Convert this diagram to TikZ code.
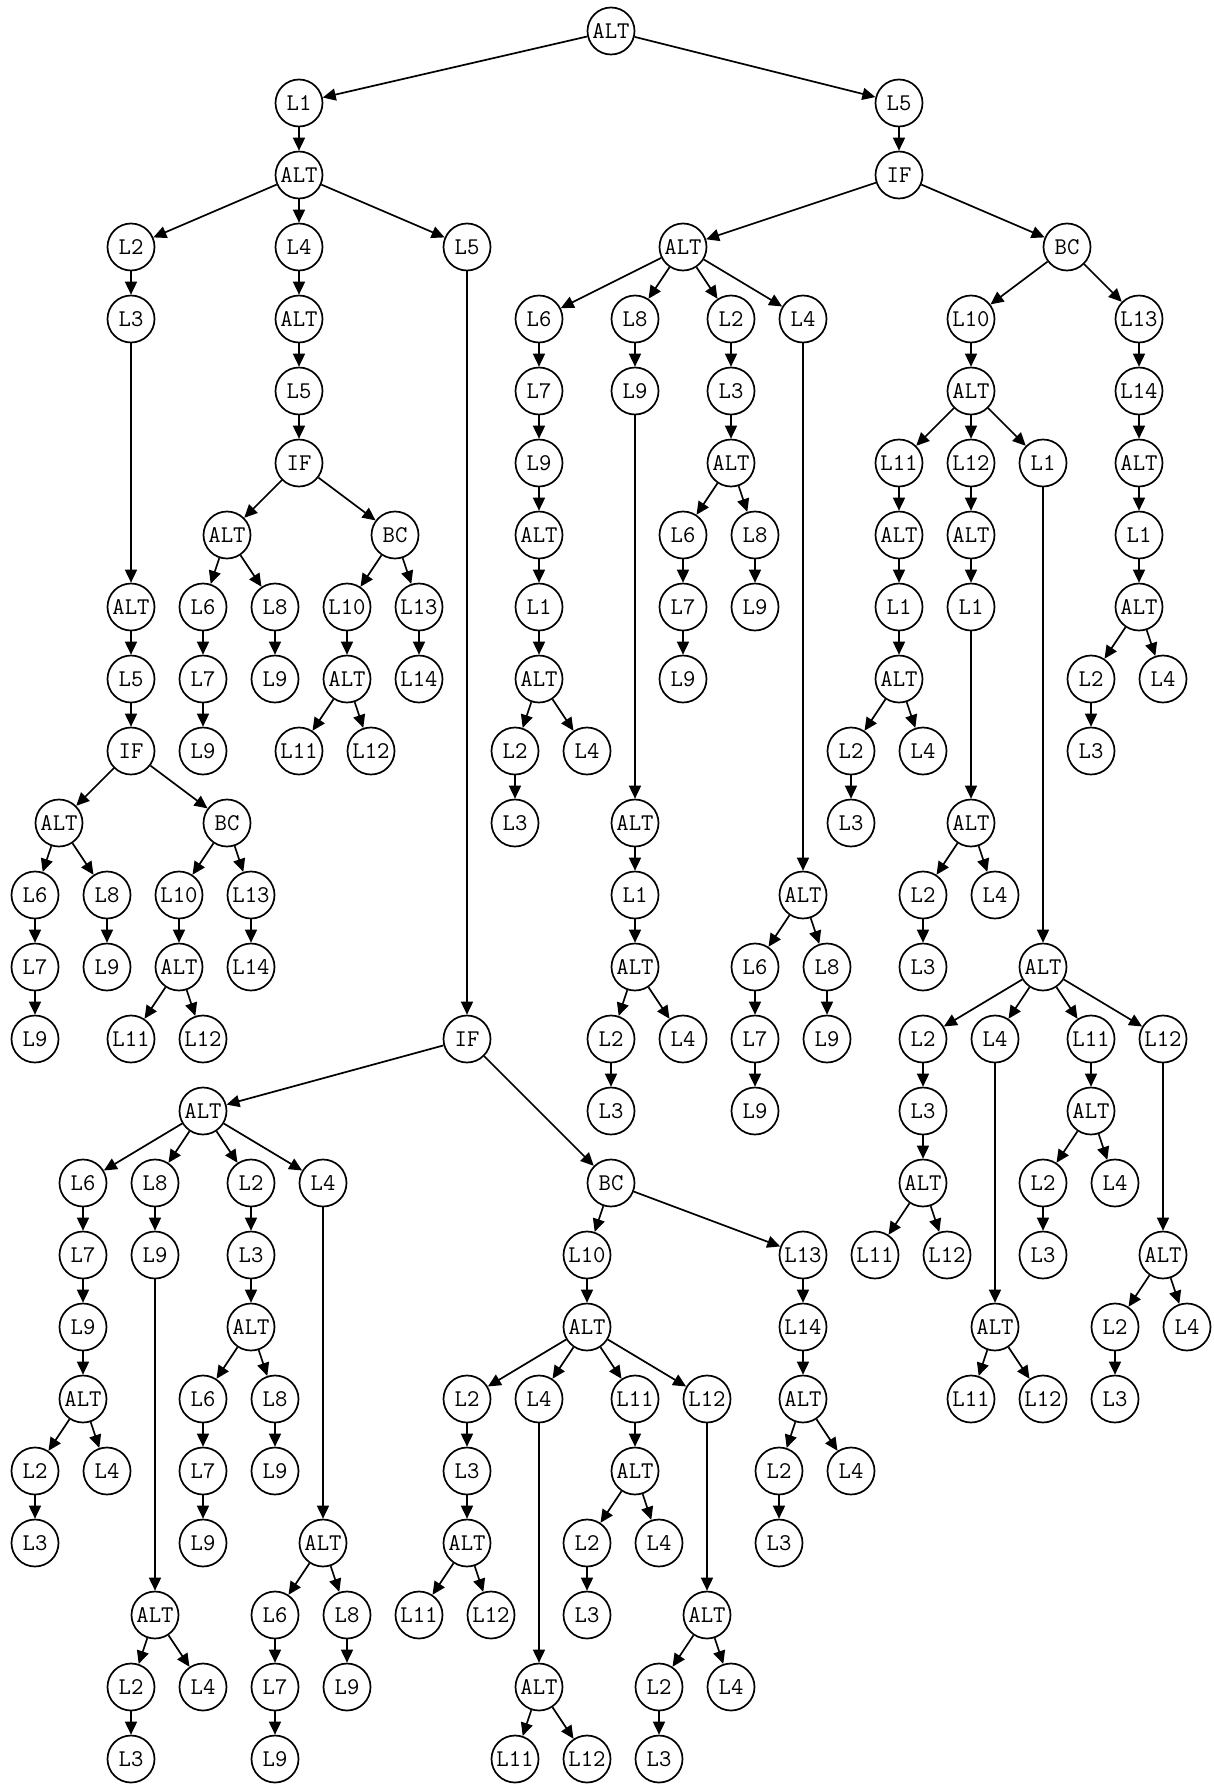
\documentclass[tikz,border=0pt]{standalone}
\usetikzlibrary{arrows.meta}
\tikzset{
  nd/.style={circle,draw,line width=1.7pt,minimum size=47pt,inner sep=0pt,font=\ttfamily\fontsize{24}{24}\selectfont},
  ed/.style={line width=1.7pt,-{Triangle[length=13pt,width=12pt]}}
}
\begin{document}
\begin{tikzpicture}[x=24pt,y=-72pt]
\useasboundingbox (0,0) rectangle (1214pt,-1785pt);
\begin{scope}[shift={(35pt,-31pt)}]
% root
\node[nd] (a) at (24,0) {ALT};
\node[nd] (b1) at (11,1) {L1};
\node[nd] (b2) at (36,1) {L5};
% left branch
\node[nd] (c) at (11,2) {ALT};
\node[nd] (c1) at (4,3) {L2};
\node[nd] (c2) at (11,3) {L4};
\node[nd] (c3) at (18,3) {L5};
% c1 subtree
\node[nd] (d1) at (4,4) {L3};
\node[nd] (d2) at (4,8) {ALT};
\node[nd] (d3) at (4,9) {L5};
\node[nd] (d4) at (4,10) {IF};
\node[nd] (d5) at (1,11) {ALT};
\node[nd] (d6) at (8,11) {BC};
\node[nd] (d7) at (0,12) {L6};
\node[nd] (d8) at (3,12) {L8};
\node[nd] (d9) at (0,13) {L7};
\node[nd] (d10) at (0,14) {L9};
\node[nd] (d11) at (3,13) {L9};
\node[nd] (d12) at (6,12) {L10};
\node[nd] (d13) at (9,12) {L13};
\node[nd] (d14) at (6,13) {ALT};
\node[nd] (d15) at (4,14) {L11};
\node[nd] (d16) at (7,14) {L12};
\node[nd] (d17) at (9,13) {L14};
% c2 subtree
\node[nd] (e1) at (11,4) {ALT};
\node[nd] (e2) at (11,5) {L5};
\node[nd] (e3) at (11,6) {IF};
\node[nd] (e4) at (8,7) {ALT};
\node[nd] (e5) at (15,7) {BC};
\node[nd] (e6) at (7,8) {L6};
\node[nd] (e7) at (10,8) {L8};
\node[nd] (e8) at (7,9) {L7};
\node[nd] (e9) at (7,10) {L9};
\node[nd] (e10) at (10,9) {L9};
\node[nd] (e11) at (13,8) {L10};
\node[nd] (e12) at (16,8) {L13};
\node[nd] (e13) at (13,9) {ALT};
\node[nd] (e14) at (11,10) {L11};
\node[nd] (e15) at (14,10) {L12};
\node[nd] (e16) at (16,9) {L14};
% c3 subtree
\node[nd] (f1) at (18,14) {IF};
\node[nd] (f2) at (7,15) {ALT};
\node[nd] (f3) at (24,16) {BC};
\node[nd] (f4) at (2,16) {L6};
\node[nd] (f5) at (5,16) {L8};
\node[nd] (f6) at (9,16) {L2};
\node[nd] (f7) at (12,16) {L4};
\node[nd] (f8) at (2,17) {L7};
\node[nd] (f9) at (2,18) {L9};
\node[nd] (f10) at (2,19) {ALT};
\node[nd] (f11) at (0,20) {L2};
\node[nd] (f12) at (3,20) {L4};
\node[nd] (f13) at (0,21) {L3};
\node[nd] (f14) at (5,17) {L9};
\node[nd] (f15) at (5,22) {ALT};
\node[nd] (f16) at (4,23) {L2};
\node[nd] (f17) at (7,23) {L4};
\node[nd] (f18) at (4,24) {L3};
\node[nd] (f19) at (9,17) {L3};
\node[nd] (f20) at (9,18) {ALT};
\node[nd] (f21) at (7,19) {L6};
\node[nd] (f22) at (10,19) {L8};
\node[nd] (f23) at (7,20) {L7};
\node[nd] (f24) at (7,21) {L9};
\node[nd] (f25) at (10,20) {L9};
\node[nd] (f26) at (12,21) {ALT};
\node[nd] (f27) at (10,22) {L6};
\node[nd] (f28) at (13,22) {L8};
\node[nd] (f29) at (10,23) {L7};
\node[nd] (f30) at (10,24) {L9};
\node[nd] (f31) at (13,23) {L9};
% f3 subtree
\node[nd] (g1) at (23,17) {L10};
\node[nd] (g2) at (32,17) {L13};
\node[nd] (g3) at (23,18) {ALT};
\node[nd] (g4) at (18,19) {L2};
\node[nd] (g5) at (21,19) {L4};
\node[nd] (g6) at (25,19) {L11};
\node[nd] (g7) at (28,19) {L12};
\node[nd] (g8) at (18,20) {L3};
\node[nd] (g9) at (18,21) {ALT};
\node[nd] (g10) at (16,22) {L11};
\node[nd] (g11) at (19,22) {L12};
\node[nd] (g12) at (21,23) {ALT};
\node[nd] (g13) at (20,24) {L11};
\node[nd] (g14) at (23,24) {L12};
\node[nd] (g15) at (25,20) {ALT};
\node[nd] (g16) at (23,21) {L2};
\node[nd] (g17) at (26,21) {L4};
\node[nd] (g18) at (23,22) {L3};
\node[nd] (g19) at (28,22) {ALT};
\node[nd] (g20) at (26,23) {L2};
\node[nd] (g21) at (29,23) {L4};
\node[nd] (g22) at (26,24) {L3};
\node[nd] (g23) at (32,18) {L14};
\node[nd] (g24) at (32,19) {ALT};
\node[nd] (g25) at (31,20) {L2};
\node[nd] (g26) at (34,20) {L4};
\node[nd] (g27) at (31,21) {L3};
% right branch
\node[nd] (h) at (36,2) {IF};
\node[nd] (h1) at (27,3) {ALT};
\node[nd] (h2) at (43,3) {BC};
\node[nd] (i1) at (21,4) {L6};
\node[nd] (i2) at (25,4) {L8};
\node[nd] (i3) at (29,4) {L2};
\node[nd] (i4) at (32,4) {L4};
\node[nd] (i5) at (21,5) {L7};
\node[nd] (i6) at (21,6) {L9};
\node[nd] (i7) at (21,7) {ALT};
\node[nd] (i8) at (21,8) {L1};
\node[nd] (i9) at (21,9) {ALT};
\node[nd] (i10) at (20,10) {L2};
\node[nd] (i11) at (23,10) {L4};
\node[nd] (i12) at (20,11) {L3};
\node[nd] (i13) at (25,5) {L9};
\node[nd] (i14) at (25,11) {ALT};
\node[nd] (i15) at (25,12) {L1};
\node[nd] (i16) at (25,13) {ALT};
\node[nd] (i17) at (24,14) {L2};
\node[nd] (i18) at (27,14) {L4};
\node[nd] (i19) at (24,15) {L3};
\node[nd] (i20) at (29,5) {L3};
\node[nd] (i21) at (29,6) {ALT};
\node[nd] (i22) at (27,7) {L6};
\node[nd] (i23) at (30,7) {L8};
\node[nd] (i24) at (27,8) {L7};
\node[nd] (i25) at (27,9) {L9};
\node[nd] (i26) at (30,8) {L9};
\node[nd] (i27) at (32,12) {ALT};
\node[nd] (i28) at (30,13) {L6};
\node[nd] (i29) at (33,13) {L8};
\node[nd] (i30) at (30,14) {L7};
\node[nd] (i31) at (30,15) {L9};
\node[nd] (i32) at (33,14) {L9};
% h2 subtree
\node[nd] (j1) at (39,4) {L10};
\node[nd] (j2) at (46,4) {L13};
\node[nd] (j3) at (39,5) {ALT};
\node[nd] (j4) at (36,6) {L11};
\node[nd] (j5) at (39,6) {L12};
\node[nd] (j6) at (42,6) {L1};
\node[nd] (j7) at (36,7) {ALT};
\node[nd] (j8) at (36,8) {L1};
\node[nd] (j9) at (36,9) {ALT};
\node[nd] (j10) at (34,10) {L2};
\node[nd] (j11) at (37,10) {L4};
\node[nd] (j12) at (34,11) {L3};
\node[nd] (j13) at (39,7) {ALT};
\node[nd] (j14) at (39,8) {L1};
\node[nd] (j15) at (39,11) {ALT};
\node[nd] (j16) at (37,12) {L2};
\node[nd] (j17) at (40,12) {L4};
\node[nd] (j18) at (37,13) {L3};
\node[nd] (j19) at (42,13) {ALT};
\node[nd] (j20) at (37,14) {L2};
\node[nd] (j21) at (40,14) {L4};
\node[nd] (j22) at (44,14) {L11};
\node[nd] (j23) at (47,14) {L12};
\node[nd] (j24) at (37,15) {L3};
\node[nd] (j25) at (37,16) {ALT};
\node[nd] (j26) at (35,17) {L11};
\node[nd] (j27) at (38,17) {L12};
\node[nd] (j28) at (40,18) {ALT};
\node[nd] (j29) at (39,19) {L11};
\node[nd] (j30) at (42,19) {L12};
\node[nd] (j31) at (44,15) {ALT};
\node[nd] (j32) at (42,16) {L2};
\node[nd] (j33) at (45,16) {L4};
\node[nd] (j34) at (42,17) {L3};
\node[nd] (j35) at (47,17) {ALT};
\node[nd] (j36) at (45,18) {L2};
\node[nd] (j37) at (48,18) {L4};
\node[nd] (j38) at (45,19) {L3};
\node[nd] (j39) at (46,5) {L14};
\node[nd] (j40) at (46,6) {ALT};
\node[nd] (j41) at (46,7) {L1};
\node[nd] (j42) at (46,8) {ALT};
\node[nd] (j43) at (44,9) {L2};
\node[nd] (j44) at (47,9) {L4};
\node[nd] (j45) at (44,10) {L3};
% edges
\foreach \s/\t in {a/b1,a/b2,b1/c,c/c1,c/c2,c/c3,
 c1/d1,d1/d2,d2/d3,d3/d4,d4/d5,d4/d6,d5/d7,d5/d8,d7/d9,d9/d10,d8/d11,d6/d12,d6/d13,d12/d14,d14/d15,d14/d16,d13/d17,
 c2/e1,e1/e2,e2/e3,e3/e4,e3/e5,e4/e6,e4/e7,e6/e8,e8/e9,e7/e10,e5/e11,e5/e12,e11/e13,e13/e14,e13/e15,e12/e16,
 c3/f1,f1/f2,f1/f3,f2/f4,f2/f5,f2/f6,f2/f7,f4/f8,f8/f9,f9/f10,f10/f11,f10/f12,f11/f13,
 f5/f14,f14/f15,f15/f16,f15/f17,f16/f18,f6/f19,f19/f20,f20/f21,f20/f22,f21/f23,f23/f24,f22/f25,
 f7/f26,f26/f27,f26/f28,f27/f29,f29/f30,f28/f31,
 f3/g1,f3/g2,g1/g3,g3/g4,g3/g5,g3/g6,g3/g7,g4/g8,g8/g9,g9/g10,g9/g11,g5/g12,g12/g13,g12/g14,
 g6/g15,g15/g16,g15/g17,g16/g18,g7/g19,g19/g20,g19/g21,g20/g22,g2/g23,g23/g24,g24/g25,g24/g26,g25/g27,
 b2/h,h/h1,h/h2,h1/i1,h1/i2,h1/i3,h1/i4,i1/i5,i5/i6,i6/i7,i7/i8,i8/i9,i9/i10,i9/i11,i10/i12,
 i2/i13,i13/i14,i14/i15,i15/i16,i16/i17,i16/i18,i17/i19,i3/i20,i20/i21,i21/i22,i21/i23,i22/i24,i24/i25,i23/i26,
 i4/i27,i27/i28,i27/i29,i28/i30,i30/i31,i29/i32,
 h2/j1,h2/j2,j1/j3,j3/j4,j3/j5,j3/j6,j4/j7,j7/j8,j8/j9,j9/j10,j9/j11,j10/j12,
 j5/j13,j13/j14,j14/j15,j15/j16,j15/j17,j16/j18,j6/j19,j19/j20,j19/j21,j19/j22,j19/j23,
 j20/j24,j24/j25,j25/j26,j25/j27,j21/j28,j28/j29,j28/j30,j22/j31,j31/j32,j31/j33,j32/j34,
 j23/j35,j35/j36,j35/j37,j36/j38,j2/j39,j39/j40,j40/j41,j41/j42,j42/j43,j42/j44,j43/j45}
 \draw[ed] (\s) -- (\t);
\end{scope}
\end{tikzpicture}
\end{document}
